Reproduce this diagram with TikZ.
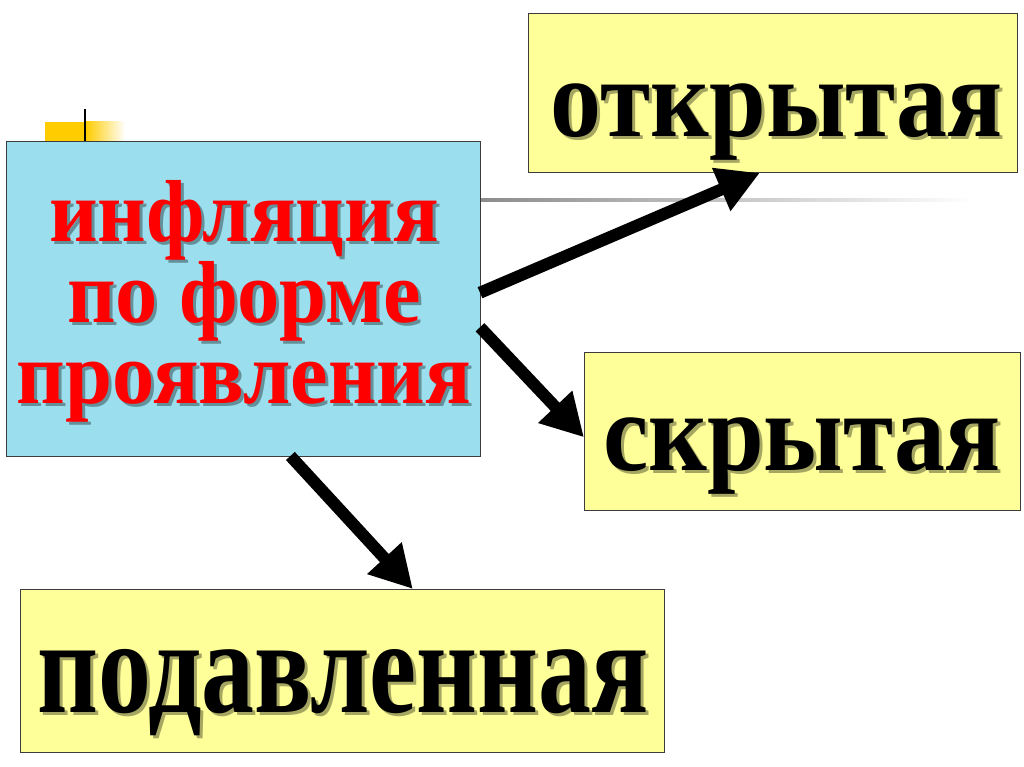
\documentclass[tikz,border=0pt]{standalone}
\usepackage{fontspec}
\setmainfont{Liberation Serif}
\newfontfamily\condfont[FakeStretch=0.79]{Liberation Serif}
\newfontfamily\narrowfont[FakeStretch=0.91]{Liberation Serif}
\newfontfamily\redfont[FakeStretch=0.96]{Liberation Serif}
\usetikzlibrary{arrows.meta,calc}
\definecolor{boxblue}{RGB}{155,222,238}
\definecolor{boxyellow}{RGB}{255,255,153}
\definecolor{boxedge}{RGB}{60,60,60}
\definecolor{txtred}{RGB}{255,0,0}
\definecolor{deco}{RGB}{255,204,0}
\begin{document}
\begin{tikzpicture}[x=1pt,y=-1pt,
  boxstyle/.style={draw=boxedge,line width=1pt,inner sep=0pt,outer sep=0pt},
  bluebox/.style={boxstyle,fill=boxblue},
  yelbox/.style={boxstyle,fill=boxyellow},
  shadowtxt/.style={text=black,opacity=0.35,inner sep=0pt},
  maintxt/.style={inner sep=0pt},
  bigarrow/.style={line width=12pt,-{Triangle[length=42pt,width=44pt]}}]
\fill[white] (0,0) rectangle (1024,767);
\useasboundingbox (0,0) rectangle (1024,767);
% decoration
\fill[deco] (45,122) rectangle (86,142);
\shade[left color=deco,right color=white] (86,122) rectangle (125,142);
\draw[line width=2pt] (85,109) -- (85,142);
\shade[left color=black!45,right color=white] (480,198.5) rectangle (975,202);
% boxes
\node[bluebox,minimum width=474pt,minimum height=314pt] (infl) at (243,299) {};
\node[yelbox,minimum width=489pt,minimum height=159pt] (open) at (772.5,93.5) {};
\node[yelbox,minimum width=436pt,minimum height=158pt] (hidden) at (802,431) {};
\node[yelbox,minimum width=644pt,minimum height=163pt] (supp) at (342,670.5) {};
% texts
\node[shadowtxt,anchor=base,font=\fontsize{112}{112}\narrowfont\bfseries] (opensh) at (780,140) {открытая};
\node[maintxt,anchor=base,font=\fontsize{112}{112}\narrowfont\bfseries] (opentxt) at (777,137) {открытая};
\node[shadowtxt,anchor=base,font=\fontsize{112}{112}\narrowfont\bfseries] (hiddensh) at (805,473) {скрытая};
\node[maintxt,anchor=base,font=\fontsize{112}{112}\narrowfont\bfseries] (hiddentxt) at (802,470) {скрытая};
\node[shadowtxt,anchor=base,font=\fontsize{134}{134}\condfont\bfseries] (suppsh) at (346,715) {подавленная};
\node[maintxt,anchor=base,font=\fontsize{134}{134}\condfont\bfseries] (supptxt) at (343,712) {подавленная};
\node[shadowtxt,align=center,font=\fontsize{88}{81}\redfont\bfseries] (inflsh) at (247,304) {инфляция\\по форме\\проявления};
\node[maintxt,align=center,text=txtred,font=\fontsize{88}{81}\redfont\bfseries] (infltxt) at (244,301) {инфляция\\по форме\\проявления};
% arrows
\draw[bigarrow] ($(infl.north east)!0.48!(infl.south east)$) -- ($(open.south west)!0.474!(open.south east)$);
\draw[bigarrow] ($(infl.north east)!0.59!(infl.south east)$) -- ($(hidden.north west)!0.54!(hidden.south west)$);
\draw[bigarrow] ($(infl.south west)!0.6!(infl.south east)$) -- ($(supp.north west)!0.61!(supp.north east)$);
\end{tikzpicture}
\end{document}
